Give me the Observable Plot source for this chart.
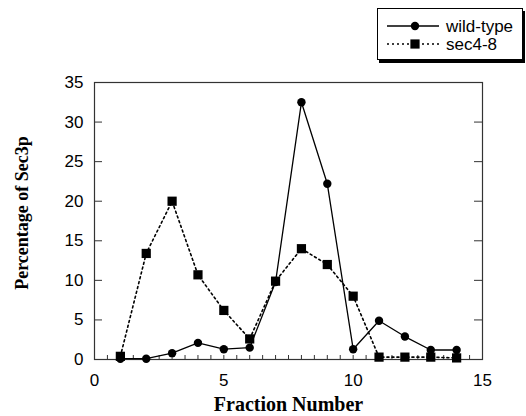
<!DOCTYPE html>
<html>
<head>
<meta charset="utf-8">
<script src="https://cdn.jsdelivr.net/npm/d3@7"></script>
<script src="https://cdn.jsdelivr.net/npm/@observablehq/plot@0.6"></script>
<style>
  html, body { margin: 0; padding: 0; background: #fff; }
  #wrap { position: relative; width: 526px; height: 416px; }
  #legend { position: absolute; left: 377px; top: 8px; width: 144px; height: 50px;
            border: 1px solid #000; box-shadow: 2px 3px 0 #000; background: #fff; }
</style>
</head>
<body>
<div id="wrap"><div id="legend"></div></div>
<script>
const fractions = [1, 2, 3, 4, 5, 6, 7, 8, 9, 10, 11, 12, 13, 14];
const wildType  = [0.1, 0.1, 0.8, 2.1, 1.3, 1.5, 9.8, 32.5, 22.2, 1.3, 4.9, 2.9, 1.2, 1.2];
const sec48     = [0.4, 13.4, 20.0, 10.7, 6.2, 2.6, 9.9, 14.0, 12.0, 8.0, 0.3, 0.3, 0.3, 0.2];
const seriesNames = ["wild-type", "sec4-8"];
const xTicks = [0, 5, 10, 15];
const yTicks = [0, 5, 10, 15, 20, 25, 30, 35];
const xTitle = "Fraction Number";
const yTitle = "Percentage of Sec3p";

const W = 526, H = 416, mL = 94, mR = 44, mT = 82, mB = 57;
const fw = W - mL - mR, fh = H - mT - mB;
const wt = fractions.map((f, i) => ({f, v: wildType[i]}));
const s4 = fractions.map((f, i) => ({f, v: sec48[i]}));
const minorX = d3.range(0.5, 15, 0.5);
const innerY = yTicks.slice(1, -1);

const chart = Plot.plot({
  width: W, height: H,
  marginLeft: mL, marginRight: mR, marginTop: mT, marginBottom: mB,
  style: {fontFamily: "'Liberation Sans', Arial, sans-serif", fontSize: "17px", color: "#000", background: "transparent"},
  x: {domain: [0, 15]},
  y: {domain: [0, 35]},
  marks: [
    Plot.axisY({ticks: yTicks, tickSize: 0, tickPadding: 11, label: null}),
    Plot.axisX({ticks: xTicks, tickSize: 0, tickPadding: 14, label: null}),
    // inward tick marks
    Plot.tickY(innerY, {y: d => d, insetRight: fw - 8, stroke: "#333"}),
    Plot.tickY(innerY, {y: d => d, insetLeft: fw - 8, stroke: "#333"}),
    Plot.tickX(minorX, {x: d => d, insetTop: fh - 4, stroke: "#333"}),
    Plot.frame({stroke: "#333", strokeWidth: 1.2}),
    Plot.line(s4, {x: "f", y: "v", stroke: "#000", strokeWidth: 1.6, strokeDasharray: "2,3"}),
    Plot.line(wt, {x: "f", y: "v", stroke: "#000", strokeWidth: 1.3}),
    Plot.dot(wt, {x: "f", y: "v", symbol: "circle", r: 4.2, fill: "#000"}),
    Plot.dot(s4, {x: "f", y: "v", symbol: "square", r: 5.2, fill: "#000"}),
    Plot.text([xTitle], {frameAnchor: "bottom", dy: 45, textAnchor: "middle", lineAnchor: "middle", fontFamily: "'Liberation Serif', 'Times New Roman', serif", fontWeight: "bold", fontSize: 20}),
    Plot.text([yTitle], {frameAnchor: "left", dx: -72, dy: -8, rotate: -90, textAnchor: "middle", lineAnchor: "middle", fontFamily: "'Liberation Serif', 'Times New Roman', serif", fontWeight: "bold", fontSize: 18})
  ]
});
document.getElementById("wrap").prepend(chart);

// legend
const lg = d3.select("#legend").append("svg").attr("width", 144).attr("height", 50);
const rows = [
  {name: seriesNames[0], dash: null, sym: d3.symbolCircle, size: Math.PI * 4.2 * 4.2, w: 1.3},
  {name: seriesNames[1], dash: "2,3", sym: d3.symbolSquare, size: Math.PI * 5.2 * 5.2, w: 1.6}
];
rows.forEach((r, i) => {
  const y = 17 + i * 18;
  lg.append("line").attr("x1", 9).attr("x2", 61).attr("y1", y).attr("y2", y)
    .attr("stroke", "#000").attr("stroke-width", r.w).attr("stroke-dasharray", r.dash);
  lg.append("path").attr("transform", `translate(37,${y})`).attr("d", d3.symbol(r.sym, r.size)()).attr("fill", "#000");
  lg.append("text").attr("x", 68).attr("y", y).attr("dy", "0.35em")
    .attr("font-family", "'Liberation Sans', Arial, sans-serif").attr("font-size", 17).text(r.name);
});
</script>
</body>
</html>
